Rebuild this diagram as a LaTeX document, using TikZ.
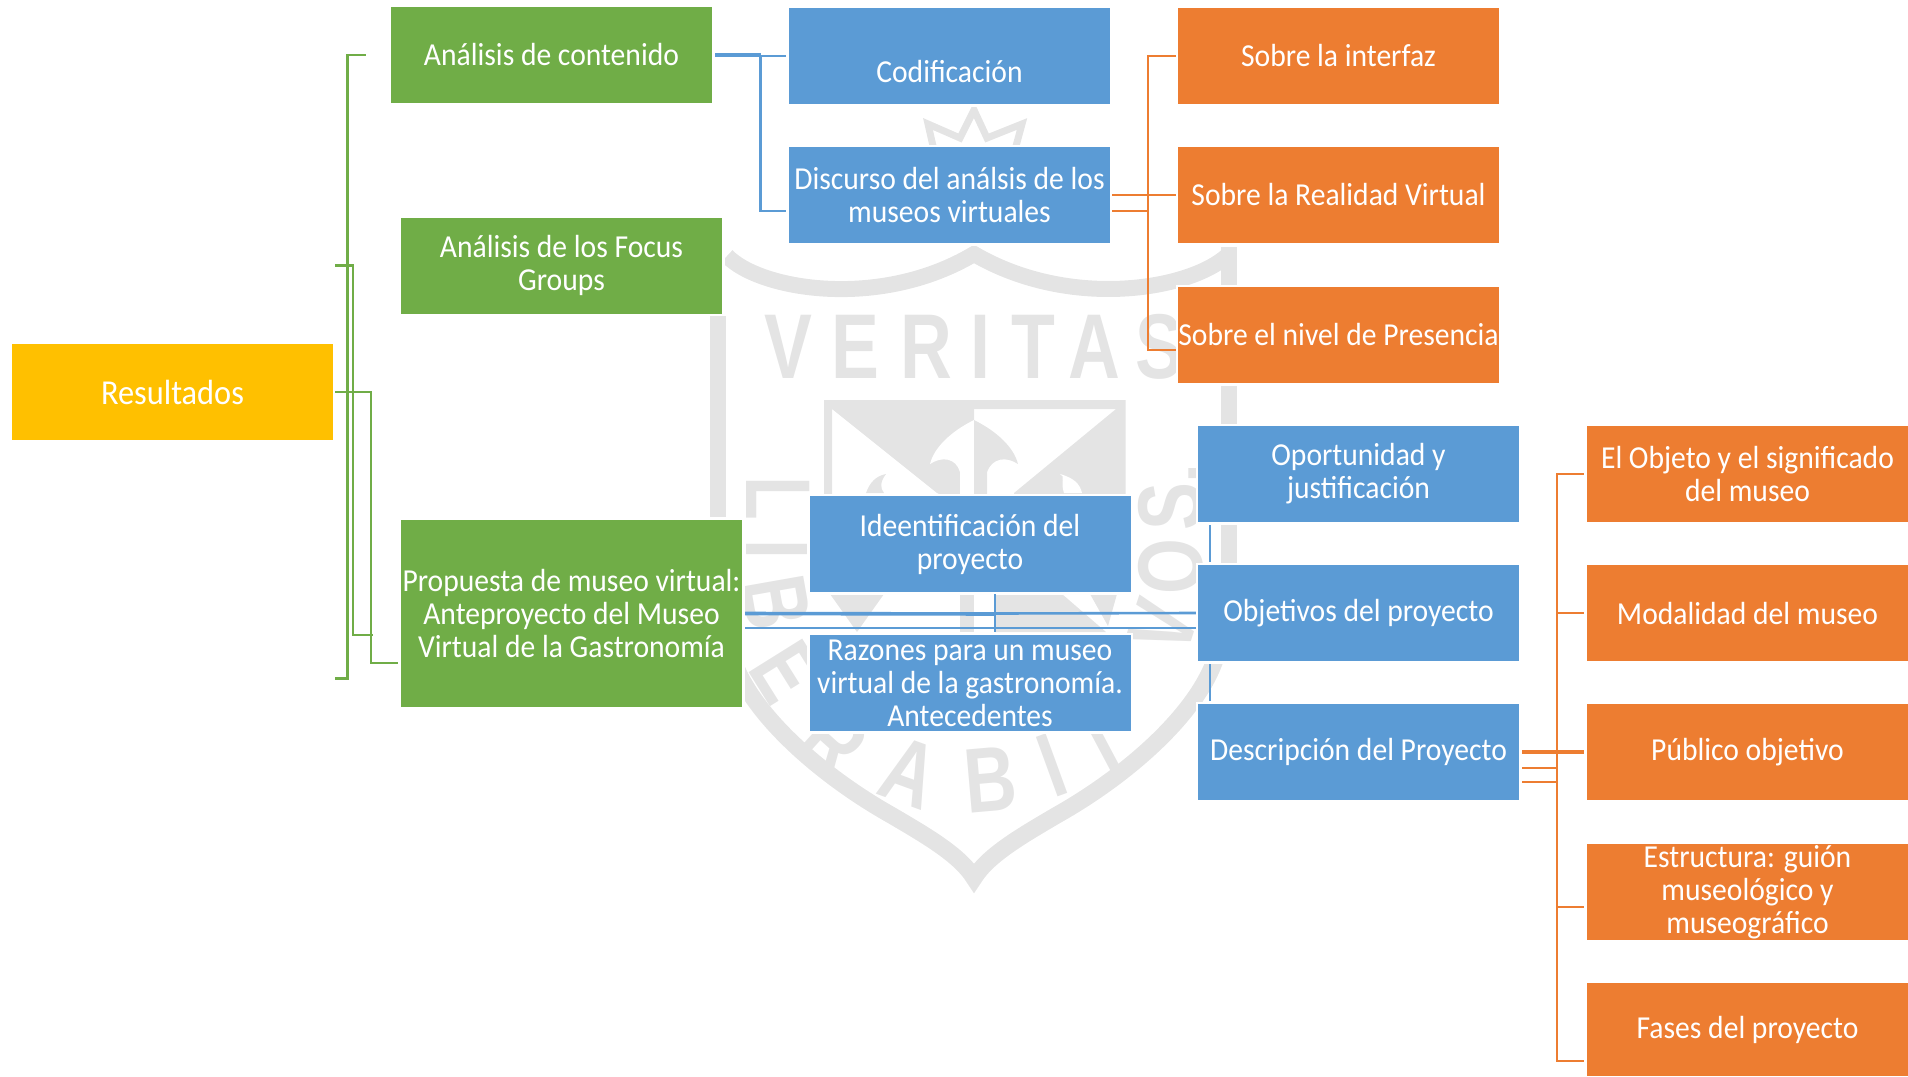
\documentclass[tikz,border=0pt]{standalone}
\usepackage{fontspec}
\setmainfont[FakeStretch=0.925]{Carlito}
\newfontfamily\wmfont[FakeStretch=0.78]{Liberation Sans}
\definecolor{cgreen}{HTML}{70AD47}
\definecolor{cblue}{HTML}{5B9BD5}
\definecolor{corange}{HTML}{ED7D31}
\definecolor{cyellow}{HTML}{FFC000}
\definecolor{cwm}{HTML}{E4E4E4}
\tikzset{
  wbox/.style={preaction={draw=white,line width=5pt},inner sep=0pt,text=white,align=center,
    minimum width=321pt,minimum height=96pt,font=\fontsize{32}{33}\selectfont},
  gbox/.style={wbox,fill=cgreen},
  bbox/.style={wbox,fill=cblue},
  obox/.style={wbox,fill=corange},
  ybox/.style={wbox,fill=cyellow,font=\fontsize{35}{36}\selectfont},
  gline/.style={draw=cgreen,line width=2.6pt},
  bline/.style={draw=cblue,line width=2.6pt},
  bthick/.style={draw=cblue,line width=3.6pt},
  oline/.style={draw=corange,line width=2.6pt},
  wmline/.style={draw=cwm,line width=16pt},
  wmthin/.style={draw=cwm,line width=7pt,line join=miter},
  wmtext/.style={text=cwm,inner sep=0pt,font=\wmfont\bfseries\fontsize{92}{92}\selectfont},
}
\begin{document}
\begin{tikzpicture}[x=1pt,y=-1pt]
\useasboundingbox (0,0) rectangle (1908,1076);
% --- watermark ---
\draw[wmthin] (933,146) -- (928,124) -- (960,138) -- (974,110) -- (987,138) -- (1022,124) -- (1016,146);
\draw[wmline] (727,256) .. controls (760,290) and (880,310) .. (974,254) .. controls (1070,310) and (1190,290) .. (1228,255);
\draw[wmline] (717.5,316) -- (717.5,517);
\draw[wmline] (1229,247) -- (1229,565);
\draw[wmline,line width=17pt,line join=miter] (730,650) .. controls (745,710) and (820,775) .. (891,815) .. controls (925,835) and (960,855) .. (974,878) .. controls (988,855) and (1023,835) .. (1057,815) .. controls (1128,775) and (1203,710) .. (1218,650);
% emblem
\fill[cwm] (824,400) -- (1125.5,400) -- (1125.5,409) -- (832,409) -- (832,510) -- (824,510) -- cycle;
\fill[cwm] (1116,409) -- (1125.5,409) -- (1125.5,510) -- (1014,510) -- (1014,493) -- cycle;
\fill[cwm] (832,409) -- (974,409) -- (974,510) -- (937,493) -- cycle;
\fill[white] (974,420) .. controls (950,432) and (934,448) .. (930,464) .. controls (942,456) and (956,458) .. (960,472) -- (960,510) -- (974,510) -- cycle;
\fill[cwm] (974,420) .. controls (998,432) and (1014,448) .. (1018,464) .. controls (1006,456) and (992,458) .. (987,472) -- (987,510) -- (974,510) -- cycle;
\fill[cwm] (866,493) .. controls (870,482) and (876,476) .. (886,474) .. controls (880,482) and (880,488) .. (884,493) -- cycle;
\fill[white] (1064,493) .. controls (1060,482) and (1066,476) .. (1060,474) .. controls (1074,478) and (1080,484) .. (1082,493) -- cycle;
\fill[cwm] (830,594) -- (884,594) -- (857,632) -- cycle;
\fill[cwm] (960,594) rectangle (974,632);
\fill[cwm] (995,594) -- (1062,594) -- (1106,632) -- (995,632) -- cycle;
\fill[cwm] (1090,594) -- (1117,594) -- (1108,626) -- cycle;
% watermark letters
\node[wmtext] (wmV) at (788,347) {V};
\node[wmtext] (wmE) at (855,347) {E};
\node[wmtext] (wmR) at (926,347) {R};
\node[wmtext] (wmI) at (980,347) {I};
\node[wmtext] (wmT) at (1033,347) {T};
\node[wmtext] (wmA) at (1094,347) {A};
\node[wmtext] (wmS) at (1159,347) {S};
\node[wmtext,rotate=-90] (lbL) at (778,498) {L};
\node[wmtext,rotate=-90] (lbI) at (778,549) {I};
\node[wmtext,rotate=-80] (lbB) at (776,603) {B};
\node[wmtext,rotate=-58] (lbE) at (786,672) {E};
\node[wmtext,rotate=-42] (lbR) at (834,742) {R};
\node[wmtext,rotate=-20] (lbA) at (910,773) {A};
\node[wmtext,rotate=5] (lbB2) at (991,780) {B};
\node[wmtext,rotate=20] (lbI2) at (1052,765) {I};
\node[wmtext,rotate=28] (lbT) at (1102,743) {T};
\node[wmtext,rotate=90] (vsS) at (1171,497) {S.};
\node[wmtext,rotate=90] (vsO) at (1171,567) {O};
\node[wmtext,rotate=72] (vsV) at (1163,627) {V};
% --- boxes ---
\node[ybox] (res) at (172.5,392) {Resultados};
\node[gbox] (cont) at (551.5,55) {Análisis de contenido};
\node[gbox] (focus) at (561.5,265.5) {Análisis de los Focus\\Groups};
\node[gbox,minimum width=341pt,minimum height=187pt] (prop) at (571.5,613.5) {Propuesta de museo virtual:\\Anteproyecto del Museo\\Virtual de la Gastronomía};
\node[bbox] (cod) at (949.5,56) {\raisebox{-26pt}[0pt][0pt]{Codificación}};
\node[bbox] (disc) at (949.5,195) {Discurso del análsis de los\\museos virtuales};
\node[obox] (so1) at (1338.5,56) {Sobre la interfaz};
\node[obox] (so2) at (1338.5,195) {Sobre la Realidad Virtual};
\node[obox] (so3) at (1338.5,335) {Sobre el nivel de Presencia};
\node[bbox] (iden) at (970,544) {Ideentificación del\\proyecto};
\node[bbox] (raz) at (970,683) {Razones para un museo\\virtual de la gastronomía.\\Antecedentes};
\node[bbox] (op) at (1358.5,474) {Oportunidad y\\justificación};
\node[bbox] (obj) at (1358.5,613) {Objetivos del proyecto};
\node[bbox] (desc) at (1358.5,752) {Descripción del Proyecto};
\node[obox] (r1) at (1747.5,474) {El Objeto y el significado\\del museo};
\node[obox] (r2) at (1747.5,613) {Modalidad del museo};
\node[obox] (r3) at (1747.5,752) {Público objetivo};
\node[obox] (r4) at (1747.5,892) {Estructura: guión\\museológico y\\museográfico};
\node[obox,minimum height=93pt] (r5) at (1747.5,1029.5) {Fases del proyecto};
% --- green connectors ---
\coordinate (gfree1) at (335,678.6);
\coordinate (gfree2) at (335,265.5);
\draw[gline] ([xshift=-25pt]cont.west) -- (347.5,55) -- (347.5,678.6) -- (gfree1);
\draw[gline] (gfree2) -- (353,265.5) -- (353,635) -- ([shift={(-28,21.5)}]prop.west);
\draw[gline] ([xshift=2pt]res.east) -- (371,392) -- (371,663) -- ([shift={(-3,49.5)}]prop.west);
% --- blue connectors ---
\draw[bthick] ([xshift=3pt]cont.east) -- (761,55);
\draw[bline] (761,56) -- ([xshift=-3pt]cod.west);
\draw[bline] (760.5,55) -- (760.5,211) -- ([shift={(-3,16)}]disc.west);
\draw[bthick] ([xshift=3pt]prop.east) -- (995,614);
\draw[bline] (995,613.5) -- ([xshift=-2pt]obj.west);
\draw[bline] ([shift={(3,14.5)}]prop.east) -- ([shift={(-2,15)}]obj.west);
\draw[bline] ([shift={(25,2)}]iden.south) -- ([shift={(25,-3)}]raz.north);
\draw[bline] ([shift={(-148.5,3)}]op.south) -- ([shift={(-148.5,-3)}]obj.north);
\draw[bline] ([shift={(-148.5,3)}]obj.south) -- ([shift={(-148.5,-3)}]desc.north);
% --- orange connectors ---
\draw[oline] ([xshift=-2pt]so1.west) -- (1148,56) -- (1148,350) -- ([shift={(-2,15)}]so3.west);
\draw[oline] ([xshift=2pt]disc.east) -- ([xshift=-2pt]so2.west);
\draw[oline] ([shift={(2,16)}]disc.east) -- (1148,211);
\draw[oline] ([xshift=-3pt]r1.west) -- (1557,474) -- (1557,1061) -- ([shift={(-3,31.5)}]r5.west);
\draw[oline] (1557,613) -- ([xshift=-3pt]r2.west);
\draw[oline] ([shift={(-3,15)}]r4.west) -- (1557,907);
\draw[oline,line width=3.2pt] ([xshift=3pt]desc.east) -- ([xshift=-3pt]r3.west);
\draw[oline] ([shift={(3,16)}]desc.east) -- (1557,768);
\draw[oline] ([shift={(3,30)}]desc.east) -- (1557,782);
\end{tikzpicture}
\end{document}
